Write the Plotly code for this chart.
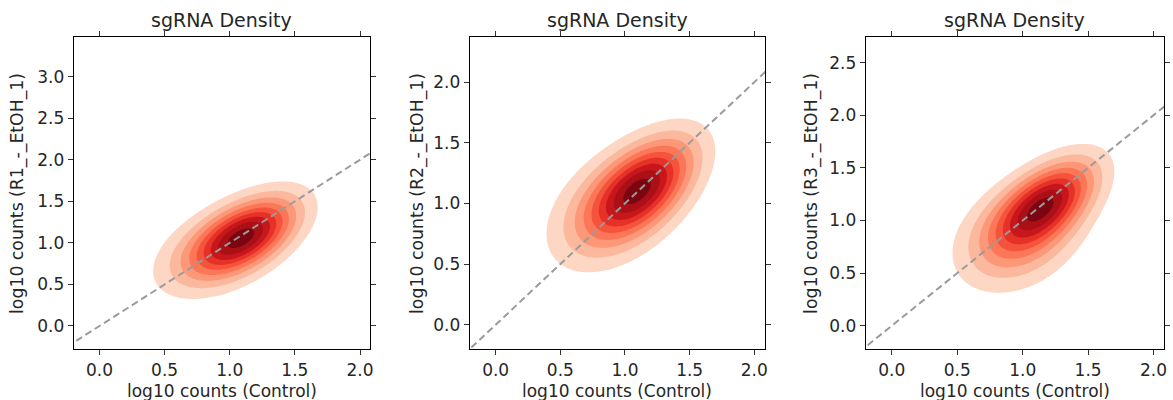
import numpy as np
import plotly.graph_objects as go
from plotly.colors import sample_colorscale
import plotly.express as px

# ---------------- data ----------------
panel_names = ["R1_-_EtOH_1", "R2_-_EtOH_1", "R3_-_EtOH_1"]
plot_title = "sgRNA Density"
x_label = "log10 counts (Control)"

x_ticks = [0.0, 0.5, 1.0, 1.5, 2.0]
y_ticks_1 = [0.0, 0.5, 1.0, 1.5, 2.0, 2.5, 3.0]
y_ticks_2 = [0.0, 0.5, 1.0, 1.5, 2.0]
y_ticks_3 = [0.0, 0.5, 1.0, 1.5, 2.0, 2.5]

# estimated density shape (2-component gaussian mixture) per panel
weights_1 = [0.65, 0.35]
mean_x_1 = [1.12, 0.92]
mean_y_1 = [1.09, 0.92]
sd_x_1 = [0.265, 0.33]
sd_y_1 = [0.31, 0.36]
rho_1 = [0.55, 0.45]

weights_2 = [0.60, 0.40]
mean_x_2 = [1.14, 0.92]
mean_y_2 = [1.14, 0.96]
sd_x_2 = [0.27, 0.33]
sd_y_2 = [0.27, 0.32]
rho_2 = [0.55, 0.40]

weights_3 = [0.55, 0.45]
mean_x_3 = [1.19, 0.97]
mean_y_3 = [1.18, 0.84]
sd_x_3 = [0.25, 0.30]
sd_y_3 = [0.27, 0.32]
rho_3 = [0.55, 0.30]

# diagonal reference line y = x
diag_x = [-0.25, 2.15]
diag_y = [-0.25, 2.15]

# ---------------- layout constants ----------------
W, H = 1173, 400
x_domains_px = [(74, 371), (471, 767), (868, 1167)]
y_domain_px = (37, 349)
x_ranges = [[-0.197, 2.077], [-0.20, 2.083], [-0.199, 2.08]]
y_ranges = [[-0.277, 3.477], [-0.200, 2.372], [-0.221, 2.743]]
ytitle_px = [17, 418, 813]

FONT = "DejaVu Sans"
TXT = "#262626"

panels = [
    (weights_1, mean_x_1, mean_y_1, sd_x_1, sd_y_1, rho_1, y_ticks_1),
    (weights_2, mean_x_2, mean_y_2, sd_x_2, sd_y_2, rho_2, y_ticks_2),
    (weights_3, mean_x_3, mean_y_3, sd_x_3, sd_y_3, rho_3, y_ticks_3),
]

n_levels = 9
band_pos = [(k + 0.6) / 10 for k in range(1, 10)]
band_colors = sample_colorscale(px.colors.sequential.Reds, band_pos)
cscale = [[0.0, "rgba(255,255,255,0)"]]
for k, c in enumerate(band_colors):
    cscale.append([(k + 1) / n_levels, c])


def density(gx, gy, w, mx, my, sx, sy, r):
    X, Y = np.meshgrid(gx, gy)
    Z = np.zeros_like(X)
    for wi, mxi, myi, sxi, syi, ri in zip(w, mx, my, sx, sy, r):
        dx = (X - mxi) / sxi
        dy = (Y - myi) / syi
        q = (dx * dx - 2 * ri * dx * dy + dy * dy) / (1 - ri * ri)
        Z += wi * np.exp(-0.5 * q) / (2 * np.pi * sxi * syi * np.sqrt(1 - ri * ri))
    return Z


fig = go.Figure()
annotations = []
for i, (w, mx, my, sx, sy, r, yt) in enumerate(panels):
    ax = "" if i == 0 else str(i + 1)
    gx = np.linspace(x_ranges[i][0], x_ranges[i][1], 240)
    gy = np.linspace(y_ranges[i][0], y_ranges[i][1], 300)
    Z = density(gx, gy, w, mx, my, sx, sy, r)
    zmax = Z.max()
    step = zmax / 9.6
    fig.add_trace(go.Contour(
        x=gx, y=gy, z=Z, xaxis="x" + ax, yaxis="y" + ax,
        contours=dict(start=step, end=step * n_levels, size=step,
                      coloring="fill", showlines=False),
        line=dict(width=0), colorscale=cscale, showscale=False,
        hoverinfo="skip",
    ))
    fig.add_trace(go.Scatter(
        x=diag_x, y=diag_y, xaxis="x" + ax, yaxis="y" + ax, mode="lines",
        line=dict(color="rgb(155,155,155)", width=2, dash="7px,4px"),
        hoverinfo="skip", showlegend=False,
    ))
    x0, x1 = x_domains_px[i]
    dom_x = [x0 / W, x1 / W]
    dom_y = [(H - y_domain_px[1]) / H, (H - y_domain_px[0]) / H]
    common = dict(showline=True, linecolor="black", linewidth=1.3, mirror="ticks",
                  ticks="outside", ticklen=5, tickwidth=1.2, tickcolor="#333333",
                  showgrid=False, zeroline=False, tickformat=".1f",
                  tickfont=dict(family=FONT, size=17, color=TXT))
    fig.update_layout(**{
        "xaxis" + ax: dict(domain=dom_x, range=x_ranges[i], tickvals=x_ticks,
                           anchor="y" + ax, **common),
        "yaxis" + ax: dict(domain=dom_y, range=y_ranges[i], tickvals=yt,
                           anchor="x" + ax, **common),
    })
    cx = (dom_x[0] + dom_x[1]) / 2
    annotations.append(dict(text=plot_title, x=cx, y=(H - 20) / H, xref="paper", yref="paper",
                            showarrow=False, xanchor="center", yanchor="middle",
                            font=dict(family=FONT, size=19, color=TXT)))
    annotations.append(dict(text=x_label, x=cx, y=(H - 391) / H, xref="paper", yref="paper",
                            showarrow=False, xanchor="center", yanchor="middle",
                            font=dict(family=FONT, size=17, color=TXT)))
    annotations.append(dict(text=f"log10 counts ({panel_names[i]})", x=ytitle_px[i] / W,
                            y=(dom_y[0] + dom_y[1]) / 2, xref="paper", yref="paper",
                            showarrow=False, xanchor="center", yanchor="middle", textangle=-90,
                            font=dict(family=FONT, size=17.3, color=TXT)))

fig.update_layout(width=W, height=H, margin=dict(l=0, r=0, t=0, b=0),
                  paper_bgcolor="white", plot_bgcolor="white", showlegend=False,
                  annotations=annotations)
fig.write_html("out.html", config={"displayModeBar": False},
               post_script="document.body.style.margin='0px';")
